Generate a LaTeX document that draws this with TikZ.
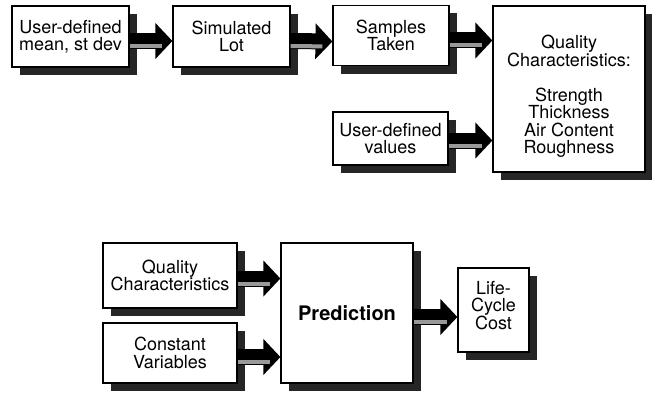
\documentclass[tikz,border=0pt]{standalone}
\usepackage{fontspec}
\setmainfont{TeX Gyre Heros}
\usetikzlibrary{arrows.meta}
\tikzset{
  box/.style={draw, line width=1.2pt, fill=white, align=center, inner sep=0pt,
    font=\fontsize{18}{17.5}\selectfont,
    preaction={fill=black!85, draw=none, transform canvas={shift={(8pt,-8pt)}}}},
  fat/.style={line width=16pt, -{Triangle[length=17pt,width=35pt]}, black,
    postaction={draw=black!40, -, line width=4pt, shorten >=10pt, transform canvas={yshift=-5pt}}},
}
\begin{document}
\begin{tikzpicture}[x=1pt,y=1pt]
    \def\x{1}
    \def\y{-1}
    \useasboundingbox (0*\x,0*\y) rectangle (652*\x,396*\y);
    % top row
    \node[box, minimum width=117pt, minimum height=61pt] (user) at (70.5*\x, 36.5*\y) {User-defined\\mean, st dev};
    \node[box, minimum width=117pt, minimum height=61pt] (lot) at (231.5*\x, 36.5*\y) {Simulated\\Lot};
    \node[box, minimum width=116pt, minimum height=60pt] (samples) at (391*\x, 35.5*\y) {Samples\\Taken};
    \node[box, minimum width=115pt, minimum height=53pt] (values) at (390.5*\x, 138.5*\y) {User-defined\\values};
    \node[box, minimum width=152pt, minimum height=166pt] (quality) at (569*\x, 89*\y) {\rule{0pt}{28pt}Quality\\Characteristics:\\[17.5pt]Strength\\Thickness\\Air Content\\Roughness};
    \path ([yshift=-4.5pt]user.east) edge [fat] ([yshift=-4.5pt]lot.west);
    \path ([yshift=-4.5pt]lot.east) edge [fat] ([yshift=-5pt]lot.east -| samples.west);
    \path ([yshift=-5pt]samples.east) edge [fat] ([yshift=-5pt]samples.east -| quality.west);
    \path ([yshift=-2pt]values.east) edge [fat] ([yshift=-2pt]values.east -| quality.west);
    % bottom row
    \node[box, minimum width=134pt, minimum height=65pt] (qc) at (170*\x, 275.5*\y) {Quality\\Characteristics};
    \node[box, minimum width=134pt, minimum height=60pt] (const) at (170*\x, 353*\y) {Constant\\Variables};
    \node[box, minimum width=132pt, minimum height=140pt, font=\fontsize{20}{22}\selectfont\bfseries] (pred) at (347*\x, 313*\y) {Prediction};
    \node[box, minimum width=71pt, minimum height=84pt] (cost) at (493.5*\x, 310*\y) {Life-\\Cycle\\Cost\rule[-10pt]{0pt}{10pt}};
    \path ([yshift=-3pt]qc.east) edge [fat] ([yshift=-3pt]qc.east -| pred.west);
    \path ([yshift=-4pt]const.east) edge [fat] ([yshift=-4pt]const.east -| pred.west);
    \path ([yshift=-4pt]pred.east) edge [fat] ([yshift=-4pt]pred.east -| cost.west);
\end{tikzpicture}
\end{document}
